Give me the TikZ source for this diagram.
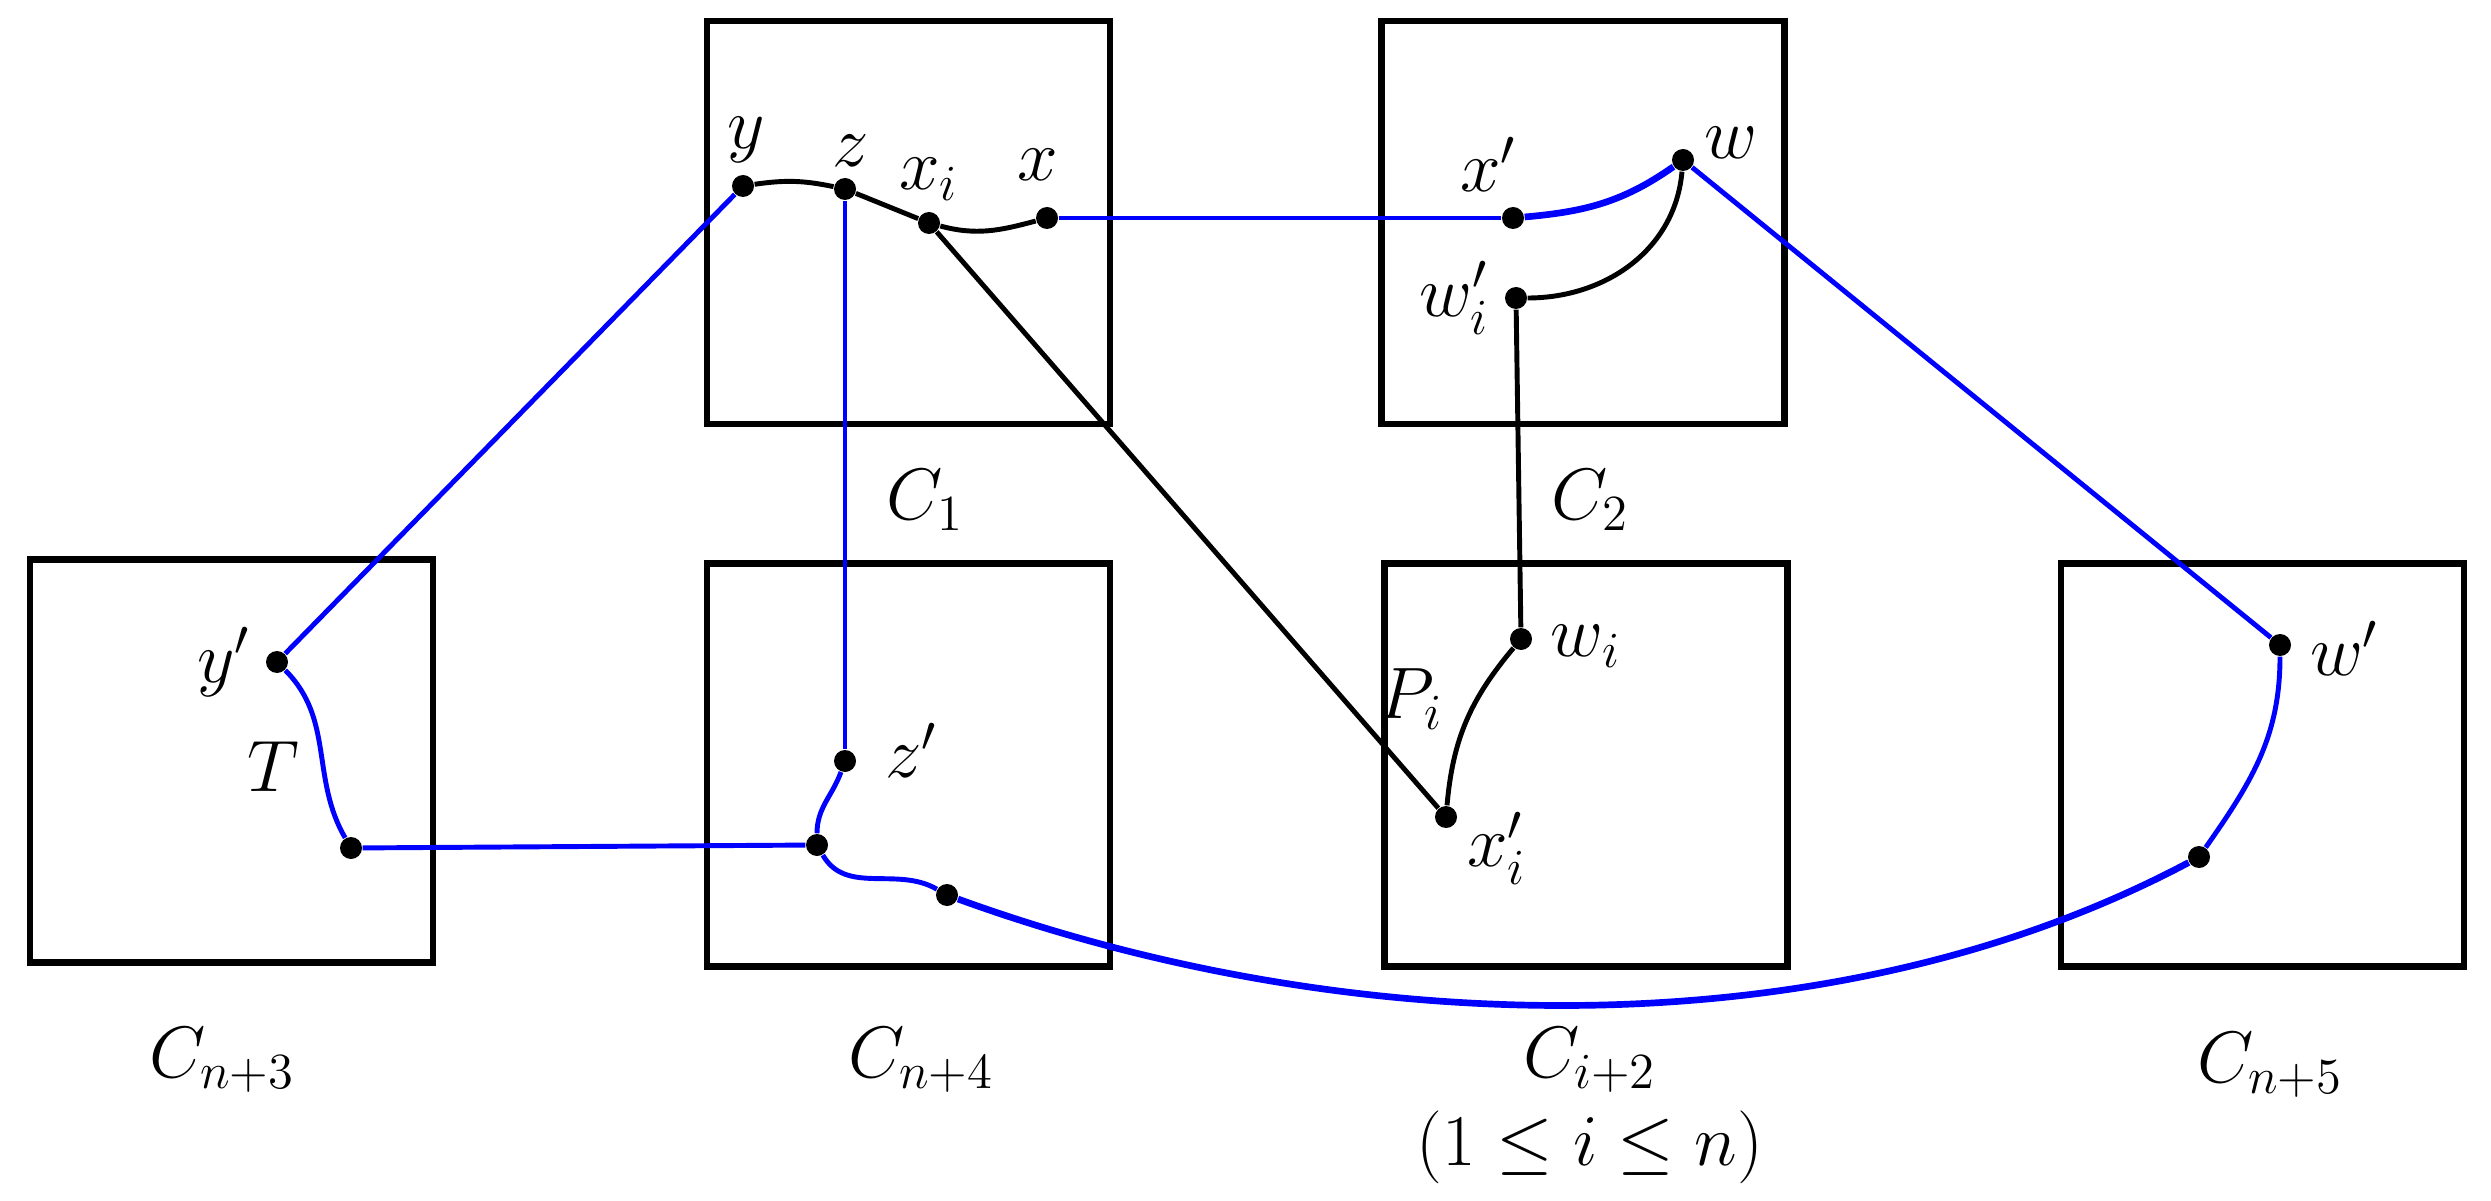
\documentclass[tikz,border=0pt]{standalone}
\usepackage{amsmath}
\usepackage{tikz}
\usetikzlibrary{positioning}
\tikzstyle{comp} = [rectangle, draw=black, line width=1.8pt, fill=none, minimum size=4.03cm, inner sep=0pt]
\tikzstyle{vtx} = [circle, fill=black, draw=none, inner sep=0pt, minimum size=0.22cm]
\tikzstyle{lbl} = [draw=none, fill=none, text=black, inner sep=1pt, font=\fontsize{19.5}{23}\selectfont]
\tikzstyle{kpath} = [draw, black, line width=1.4pt]
\tikzstyle{bpath} = [draw, blue, line width=1.4pt]
\tikzstyle{bthick} = [draw, blue, line width=1.9pt]

\begin{document}
\begin{tikzpicture}

\useasboundingbox (0,0) rectangle (24.91,12);

% components =============================
\node[comp] (c1) at (9.085,9.775) {};
\node[comp] (c2) at (15.83,9.775) {};
\node[comp] (cn3) at (2.315,4.39) {};
\node[comp] (cn4) at (9.085,4.35) {};
\node[comp] (ci2) at (15.86,4.35) {};
\node[comp] (cn5) at (22.625,4.35) {};

\node[lbl] (c1lab) at (9.25,7.0) {$C_1$};
\node[lbl] (c2lab) at (15.9,7.0) {$C_2$};
\node[lbl] (cn3lab) at (2.22,1.40) {$C_{n+3}$};
\node[lbl] (cn4lab) at (9.21,1.40) {$C_{n+4}$};
\node[lbl] (ci2lab) at (15.9,1.40) {$C_{i+2}$};
\node[lbl, below=3pt of ci2lab] (rng) {$(1\leq i\leq n)$};
\node[lbl] (cn5lab) at (22.7,1.35) {$C_{n+5}$};

% vertices
\node[vtx] (y) at (7.43,10.14) {};
\node[vtx] (z) at (8.45,10.11) {};
\node[vtx] (xi) at (9.29,9.77) {};
\node[vtx] (x) at (10.47,9.82) {};
\node[vtx] (xp) at (15.13,9.82) {};
\node[vtx] (w) at (16.83,10.40) {};
\node[vtx] (wpi) at (15.16,9.02) {};
\node[vtx] (wi) at (15.21,5.61) {};
\node[vtx] (xpi) at (14.46,3.83) {};
\node[vtx] (yp) at (2.77,5.38) {};
\node[vtx] (tb) at (3.51,3.52) {};
\node[vtx] (zp) at (8.45,4.39) {};
\node[vtx] (jn) at (8.17,3.55) {};
\node[vtx] (u) at (9.47,3.05) {};
\node[vtx] (v) at (21.99,3.43) {};
\node[vtx] (wp) at (22.80,5.55) {};

\node[lbl, above=2pt of y, xshift=1pt] {$y$};
\node[lbl, above=2pt of z, xshift=1.5pt] {$z$};
\node[lbl, above=2pt of xi] {$x_i$};
\node[lbl, above=6pt of x, xshift=-2.5pt] {$x$};
\node[lbl, above=3pt of xp, xshift=-7pt] {$x'$};
\node[lbl, right=1.5pt of w, yshift=5pt] {$w$};
\node[lbl, left=3pt of wpi] {$w'_i$};
\node[lbl, right=4pt of wi, yshift=-2pt] {$w_i$};
\node[lbl, below right=-5pt and 2.5pt of xpi] {$x'_i$};
\node[lbl, left=3pt of yp] {$y'$};
\node[lbl, right=7pt of zp, yshift=3pt] {$z'$};
\node[lbl, right=4pt of wp, yshift=-1pt] {$w'$};

% edges in C1, C2, C_{i+2}
\path[kpath] (y) to[bend left=10] (z);
\path[kpath] (z) -- (xi);
\path[kpath] (xi) to[out=-15, in=195] (x);
\path[kpath] (xi) -- (xpi);
\path[kpath] (wpi) to[out=0, in=-95] (w);
\path[kpath] (wpi) -- (wi);
\path[kpath] (xpi) to[out=85, in=230] node[lbl, pos=0.65, left=8pt] {$P_i$} (wi);

% blue edges
\path[bpath] (x) -- (xp);
\path[bthick] (xp) to[out=5, in=215] (w);
\path[bpath] (w) -- (wp);
\path[bpath] (y) -- (yp);
\path[bpath] (yp) to[out=-45, in=120] node[lbl, pos=0.6, left=5pt] {$T$} (tb);
\path[bpath] (tb) -- (jn);
\path[bpath] (z) -- (zp);
\path[bpath] (zp) to[out=-110, in=90] (jn);
\path[bpath] (jn) to[out=-60, in=150] (u);
\path[bthick] (u) to[out=-20, in=-152, looseness=0.85] (v);
\path[bpath] (v) to[out=55, in=-90] (wp);

\end{tikzpicture}
\end{document}
